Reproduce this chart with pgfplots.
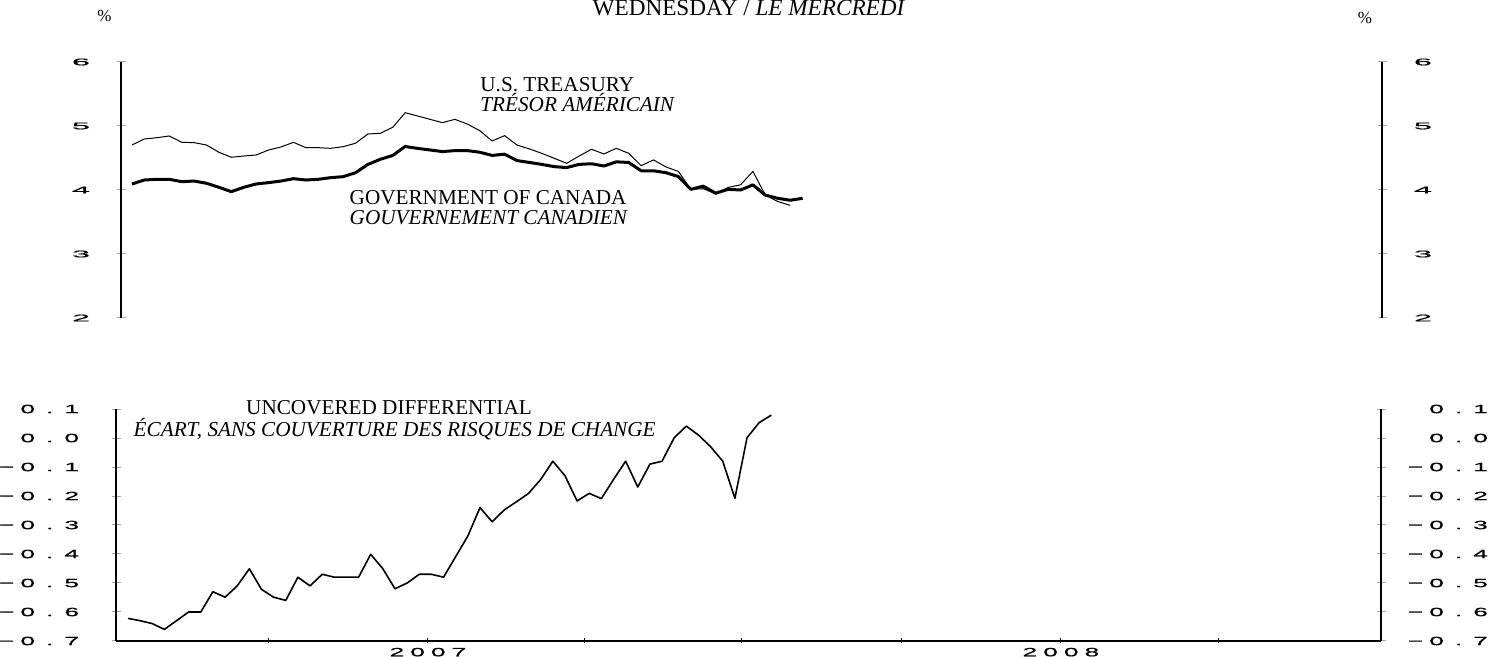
\documentclass[border=0pt]{standalone}
\usepackage{fontspec}
\setmainfont{Liberation Serif}
\newfontfamily\tkA[FakeStretch=3.4,FakeBold=0.8]{Liberation Sans}
\newfontfamily\tkB[FakeStretch=2.2,FakeBold=0.8]{Liberation Sans}
\usepackage{pgfplots}
\usepackage{pgfplotstable}
\pgfplotsset{compat=1.18}

\newcommand\tl[1]{{\tkA\fontsize{4.8}{4.8}\selectfont #1}}
\newcommand\mn{\symbol{"2212}\hspace{3pt}}
\newcommand\bl[2]{{\tkB\fontsize{6}{6}\selectfont #10\hspace{5.5pt}.\hspace{5.5pt}#2}}
\newcommand\yr[4]{{\tkB\fontsize{6}{6}\selectfont #1\hspace{3pt}#2\hspace{3pt}#3\hspace{3pt}#4}}

\pgfplotstableread{
x y
11 4.094
18 4.156
25 4.167
32 4.167
39 4.130
46 4.140
53 4.105
60 4.042
67 3.974
74 4.042
81 4.094
88 4.115
95 4.140
102 4.177
109 4.156
116 4.167
123 4.193
130 4.208
137 4.270
144 4.400
151 4.480
158 4.540
165 4.680
172 4.650
179 4.625
186 4.600
193 4.615
200 4.615
207 4.590
214 4.540
221 4.560
228 4.460
235 4.430
242 4.400
249 4.365
256 4.350
263 4.400
270 4.410
277 4.375
284 4.440
291 4.430
298 4.300
305 4.300
312 4.270
319 4.210
326 4.010
333 4.060
340 3.950
347 4.010
354 4.000
361 4.080
368 3.920
375 3.870
382 3.840
389 3.870
}\can

\pgfplotstableread{
x y
11 4.703
18 4.797
25 4.817
32 4.844
39 4.745
46 4.740
53 4.703
60 4.589
67 4.511
74 4.531
81 4.547
88 4.625
95 4.672
102 4.745
109 4.661
116 4.661
123 4.651
130 4.677
137 4.730
144 4.875
151 4.886
158 4.980
165 5.208
172 5.156
179 5.104
186 5.052
193 5.104
200 5.031
207 4.927
214 4.766
221 4.849
228 4.703
235 4.641
242 4.573
249 4.495
256 4.417
263 4.530
270 4.636
277 4.563
284 4.651
291 4.573
298 4.380
305 4.470
312 4.360
319 4.290
326 4.010
333 4.020
340 3.940
347 4.040
354 4.080
361 4.290
368 3.920
375 3.820
382 3.760
}\us

\pgfplotstableread{
x y
11 -0.622
18 -0.630
25 -0.640
32 -0.660
39 -0.630
46 -0.600
53 -0.600
60 -0.530
67 -0.549
74 -0.510
81 -0.451
88 -0.522
95 -0.549
102 -0.560
109 -0.480
116 -0.510
123 -0.470
130 -0.480
137 -0.480
144 -0.480
151 -0.401
158 -0.451
165 -0.520
172 -0.500
179 -0.470
186 -0.470
193 -0.480
200 -0.409
207 -0.338
214 -0.240
221 -0.289
228 -0.248
235 -0.220
242 -0.191
249 -0.143
256 -0.080
263 -0.130
270 -0.217
277 -0.191
284 -0.209
291 -0.143
298 -0.080
305 -0.169
312 -0.090
319 -0.080
326 0.001
333 0.041
340 0.010
347 -0.030
354 -0.080
361 -0.208
368 0.001
375 0.053
382 0.079
}\dif

\pgfplotsset{
  noarrows/.style={axis line style={-},
    every inner x axis line/.append style={-},
    every outer x axis line/.append style={-},
    every inner y axis line/.append style={-},
    every outer y axis line/.append style={-}},
  topax/.style={at={(60.5pt,169.5pt)}, anchor=south west, scale only axis,
    width=630.5pt, height=128pt, xmin=4.8, xmax=715.6, ymin=2, ymax=6,
    tick align=inside, major tick length=4.5pt,
    ytick style={draw=gray!70, line width=0.5pt},
    ytick={2,3,4,5,6}, yticklabels={\tl{2},\tl{3},\tl{4},\tl{5},\tl{6}}},
  botax/.style={at={(58pt,8pt)}, anchor=south west, scale only axis,
    width=632.5pt, height=116pt, xmin=4.1, xmax=733.6, ymin=-0.7, ymax=0.1,
    tick align=inside},
  boty/.style={botax,
    major tick length=4.5pt, ytick style={draw=gray!70, line width=0.5pt},
    ytick={-0.7,-0.6,-0.5,-0.4,-0.3,-0.2,-0.1,0,0.1},
    yticklabels={\bl{\mn}{7},\bl{\mn}{6},\bl{\mn}{5},\bl{\mn}{4},\bl{\mn}{3},\bl{\mn}{2},\bl{\mn}{1},\bl{}{0},\bl{}{1}}},
}

\begin{document}
\begin{tikzpicture}
\useasboundingbox (0,0) rectangle (753pt,328.5pt);

% top panel
\begin{axis}[topax, axis x line=none, axis y line=left, noarrows,
  y axis line style={line width=1pt}, ytick pos=left,
  yticklabel style={anchor=east, inner sep=0pt, xshift=-13pt}]
\addplot[black, line width=0.5pt] table {\us};
\addplot[black, line width=1.5pt, line join=round] table {\can};
\end{axis}
\begin{axis}[topax, axis x line=none, axis y line=right, noarrows,
  y axis line style={line width=1pt}, ytick pos=right, yticklabel pos=right,
  yticklabel style={anchor=west, inner sep=0pt, xshift=13.5pt}]
\end{axis}

% bottom panel
\begin{axis}[boty, axis x line=none, axis y line=left, noarrows,
  y axis line style={line width=1pt}, ytick pos=left,
  yticklabel style={anchor=east, inner sep=0pt, xshift=-16pt}]
\addplot[black, line width=0.8pt, line join=round] table {\dif};
\end{axis}
\begin{axis}[boty, axis x line=none, axis y line=right, noarrows,
  y axis line style={line width=1pt}, ytick pos=right, yticklabel pos=right,
  yticklabel style={anchor=west, inner sep=0pt, xshift=8pt, text width=43pt, align=right}]
\end{axis}
\begin{axis}[botax, axis y line=none, axis x line=bottom, noarrows,
  x axis line style={line width=0.6pt},
  xtick={92,184,274,365,457,549,640},
  xticklabels={,\yr2007,,,,\yr2008,},
  minor xtick={31,62,123,153,215,243,304,335,396,427,488,518,580,609,670,701},
  major tick length=2.5pt, minor tick length=1.2pt,
  xtick style={draw=black, line width=0.5pt},
  xticklabel style={anchor=north, inner sep=0pt, yshift=-2pt}]
\end{axis}

% texts
\begin{scope}[every node/.style={inner sep=0pt, font=\fontsize{10.6}{10.6}\selectfont}]
\node[anchor=base, font=\fontsize{11.6}{11.6}\selectfont] at (374.5pt,320.6pt) {WEDNESDAY / \textit{LE MERCREDI}};
\node[anchor=base west] at (240pt,282.65pt) {U.S. TREASURY};
\node[anchor=base west] at (240pt,272.65pt) {\textit{TRÉSOR AMÉRICAIN}};
\node[anchor=base west] at (174.65pt,226.35pt) {GOVERNMENT OF CANADA};
\node[anchor=base west] at (174.65pt,216pt) {\textit{GOUVERNEMENT CANADIEN}};
\node[anchor=base] at (194.5pt,121pt) {UNCOVERED DIFFERENTIAL};
\node[anchor=base] at (197.35pt,110.15pt) {\textit{ÉCART, SANS COUVERTURE DES RISQUES DE CHANGE}};
\node[font=\fontsize{8.5}{8.5}\selectfont] at (52.25pt,320.5pt) {\%};
\node[font=\fontsize{8.5}{8.5}\selectfont] at (682.5pt,319.5pt) {\%};
\end{scope}
\end{tikzpicture}
\end{document}
